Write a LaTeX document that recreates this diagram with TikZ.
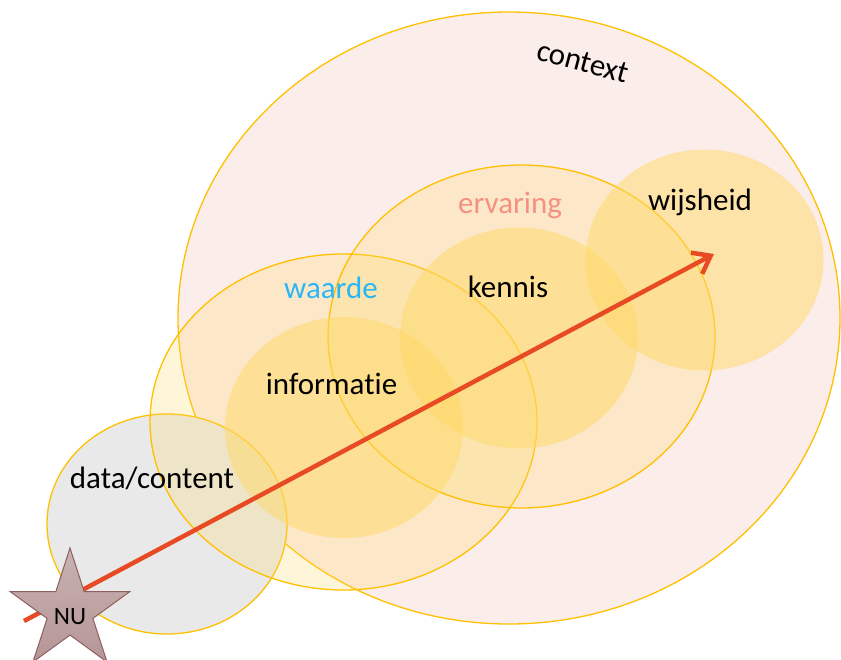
\documentclass[tikz,border=0pt]{standalone}
\usepackage{fontspec}
\setmainfont[Ligatures={NoCommon,NoRequired,NoContextual,NoRare},RawFeature={-liga;-clig;-calt;-rlig}]{Carlito}
\usetikzlibrary{shapes.geometric,arrows.meta}

\definecolor{gold}{RGB}{255,192,0}
\definecolor{honey}{RGB}{255,217,102}
\definecolor{blush}{RGB}{251,238,234}
\definecolor{mist}{RGB}{233,233,233}
\definecolor{flame}{RGB}{232,75,35}
\definecolor{salmon}{RGB}{244,145,128}
\definecolor{sky}{RGB}{41,182,246}

\begin{document}
\begin{tikzpicture}[x=1pt, y=-1pt,
	ring/.style={ellipse,draw=gold,line width=1.3pt,inner sep=0pt},
	core/.style={ellipse,fill=honey,fill opacity=0.5,inner sep=0pt,minimum width=238pt,minimum height=221pt},
	word/.style={anchor=base,font=\fontsize{31}{36}\selectfont},
	arrowline/.style={draw=flame,line width=4.5pt,-{Straight Barb[length=16pt,width=24pt]}}]
	
	\useasboundingbox (0,0) rectangle (841,660);
	
	\node[ring,fill=blush,minimum width=662pt,minimum height=612pt] (context) at (509,318) {};
	\node[ring,fill=mist,minimum width=240pt,minimum height=220pt] (data) at (167,524) {};
	\node[ring,fill=honey,fill opacity=0.25,minimum width=387pt,minimum height=336pt] (waarde) at (343.5,422) {};
	\node[ring,fill=honey,fill opacity=0.25,minimum width=387pt,minimum height=343pt] (ervaring) at (521.5,336.5) {};
	\node[core] (informatie) at (344,427.5) {};
	\node[core] (kennis) at (519,338) {};
	\node[core] (wijsheid) at (704.5,260) {};
	
	\coordinate (start) at (24,621);
	\coordinate (tip) at (714,254);
	\path[arrowline] (start) -- (tip);
	
	\node[star,star points=5,star point ratio=2.618,minimum size=126pt,inner sep=0pt,
	draw={rgb,255:red,142;green,95;blue,95},line width=1pt,
	top color={rgb,255:red,200;green,178;blue,178},bottom color={rgb,255:red,182;green,150;blue,150}] (nu) at (70,611) {};
	
	\node[word,anchor=center,rotate=-15] (lblcontext) at (583,62) {context};
	\node[word,text=salmon] (lblervaring) at (510,214) {ervaring};
	\node[word,text=sky] (lblwaarde) at (331,299) {waarde};
	\node[word] (lblkennis) at (508,298) {kennis};
	\node[word] (lblinformatie) at (331.5,394) {informatie};
	\node[word] (lbldata) at (152,488) {data/content};
	\node[word] (lblwijsheid) at (700,211) {wijsheid};
	\node[word,font=\fontsize{25}{30}\selectfont] (lblnu) at (70,624) {NU};
\end{tikzpicture}
\end{document}
